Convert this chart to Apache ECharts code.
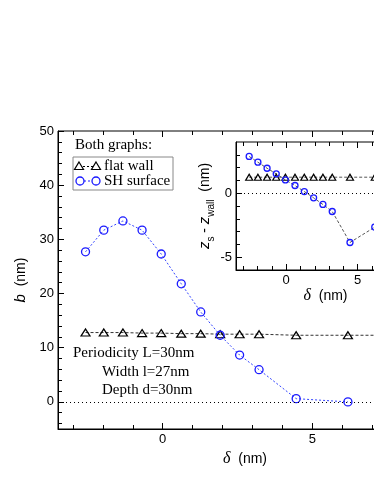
<!DOCTYPE html>
<html>
<head>
<meta charset="utf-8">
<script src="https://cdn.jsdelivr.net/npm/echarts@6/dist/echarts.min.js"></script>
<style>
html, body { margin: 0; padding: 0; background: #fff; }
#chart { width: 374px; height: 484px; }
</style>
</head>
<body>
<div id="chart"></div>
<script>
/* data */
var delta = [-2.58, -1.97, -1.33, -0.69, -0.05, 0.62, 1.27, 1.92, 2.57, 3.22, 4.46, 6.19];
var deltaMain = [-2.58, -1.97, -1.33, -0.69, -0.05, 0.62, 1.27, 1.92, 2.57, 3.22, 4.46, 6.19, 8.0];
var bFlat = [12.8, 12.8, 12.8, 12.7, 12.7, 12.6, 12.6, 12.5, 12.5, 12.5, 12.3, 12.3, 12.3];
var bSH = [27.7, 31.7, 33.4, 31.7, 27.3, 21.8, 16.6, 12.3, 8.65, 5.95, 0.6, 0.0];
var zFlat = [1.25, 1.25, 1.25, 1.25, 1.25, 1.25, 1.25, 1.25, 1.25, 1.25, 1.25, 1.25];
var zSH = [2.87, 2.42, 1.95, 1.51, 1.04, 0.60, 0.13, -0.36, -0.88, -1.43, -3.85, -2.65];

/* tick positions */
var xMajor = [0, 5];
var xMinor = [-3, -2, -1, 1, 2, 3, 4, 6, 7, 8];
var yMainMajor = [0, 10, 20, 30, 40, 50];
var yMainMinor = [-4, -2, 2, 4, 6, 8, 12, 14, 16, 18, 22, 24, 26, 28, 32, 34, 36, 38, 42, 44, 46, 48];
var yInsetMajor = [-5, 0];
var yInsetMinor = [-4, -3, -2, -1, 1, 2, 3];

var sans = '"Liberation Sans", Arial, sans-serif';
var serif = '"Liberation Serif", "Times New Roman", serif';
var blue = '#1a1aff';

function pairs(xs, ys) {
    var out = [];
    for (var i = 0; i < ys.length; i++) out.push([xs[i], ys[i]]);
    return out;
}

// one axis = one set of ticks (major or minor), optional labels
function axis(grid, pos, min, max, ticks, len, labels, line) {
    return {
        type: 'value', gridIndex: grid, position: pos, min: min, max: max,
        axisLine: { show: !!line, onZero: false, lineStyle: { color: '#000', width: 1 } },
        axisTick: { show: true, inside: true, length: len, customValues: ticks,
            lineStyle: { color: '#000', width: 1 } },
        axisLabel: labels ? { show: true, customValues: labels, color: '#000',
            fontFamily: sans, fontSize: 13, margin: 4 } : { show: false },
        splitLine: { show: false }
    };
}

var chart = echarts.init(document.getElementById('chart'), null, { renderer: 'canvas' });

var xAxes = [
    axis(0, 'bottom', -3.5, 9, xMajor, 6, xMajor, true),
    axis(0, 'bottom', -3.5, 9, xMinor, 4),
    axis(0, 'top', -3.5, 9, xMajor, 6),
    axis(0, 'top', -3.5, 9, xMinor, 4),
    axis(1, 'bottom', -3.5, 9, xMajor, 6, xMajor, true),
    axis(1, 'bottom', -3.5, 9, xMinor, 4),
    axis(1, 'top', -3.5, 9, xMajor, 6),
    axis(1, 'top', -3.5, 9, xMinor, 4)
];
xAxes[0].name = '{i|δ}  (nm)';
xAxes[0].nameLocation = 'middle';
xAxes[0].nameGap = 11;
xAxes[0].nameTextStyle = { fontFamily: sans, fontSize: 14, color: '#000',
    rich: { i: { fontStyle: 'italic', fontFamily: serif, fontSize: 16 } } };
xAxes[4].name = '{i|δ}  (nm)';
xAxes[4].nameLocation = 'middle';
xAxes[4].nameGap = 11;
xAxes[4].nameTextStyle = xAxes[0].nameTextStyle;

var yAxes = [
    axis(0, 'left', -5, 50, yMainMajor, 6, yMainMajor, true),
    axis(0, 'left', -5, 50, yMainMinor, 4),
    axis(1, 'left', -6, 4, yInsetMajor, 6, yInsetMajor, true),
    axis(1, 'left', -6, 4, yInsetMinor, 4)
];
yAxes[0].name = '{i|b}  (nm)';
yAxes[0].nameLocation = 'middle';
yAxes[0].nameGap = 20;
yAxes[0].nameRotate = 90;
yAxes[0].nameTextStyle = { fontFamily: sans, fontSize: 14, color: '#000',
    rich: { i: { fontStyle: 'italic', fontFamily: sans, fontSize: 15 } } };
yAxes[2].name = '{i|z}{s|s} - {i|z}{s|wall}  (nm)';
yAxes[2].nameLocation = 'middle';
yAxes[2].nameGap = 15;
yAxes[2].nameRotate = 90;
yAxes[2].nameTextStyle = { fontFamily: sans, fontSize: 14, color: '#000',
    rich: {
        i: { fontFamily: sans, fontSize: 15, fontStyle: 'italic', verticalAlign: 'bottom' },
        s: { fontFamily: sans, fontSize: 10, verticalAlign: 'bottom', padding: [0, 0, -4, 0] }
    } };

var zeroLine = {
    silent: true, symbol: ['none', 'none'], label: { show: false },
    lineStyle: { color: '#000', type: [1, 3], width: 1 },
    data: [{ yAxis: 0 }]
};

chart.setOption({
    animation: false,
    backgroundColor: '#fff',
    grid: [
        { left: 58, top: 131, width: 374, height: 298, show: true, borderColor: '#000',
          borderWidth: 1, containLabel: false, outerBoundsMode: 'none' },
        { left: 236, top: 142, width: 179, height: 128, show: true, borderColor: '#000',
          borderWidth: 1, backgroundColor: '#fff', containLabel: false, outerBoundsMode: 'none' }
    ],
    xAxis: xAxes,
    yAxis: yAxes,
    series: [
        {
            name: 'flat wall', type: 'line', xAxisIndex: 0, yAxisIndex: 0,
            data: pairs(deltaMain, bFlat),
            symbol: 'triangle', symbolSize: [9, 7],
            itemStyle: { color: 'transparent', borderColor: '#000', borderWidth: 1.2 },
            lineStyle: { color: '#333', width: 1, type: [3, 2] },
            markLine: zeroLine
        },
        {
            name: 'SH surface', type: 'line', xAxisIndex: 0, yAxisIndex: 0,
            data: pairs(delta, bSH),
            symbol: 'circle', symbolSize: 8,
            itemStyle: { color: 'transparent', borderColor: blue, borderWidth: 1.3 },
            lineStyle: { color: '#3344ff', width: 1, type: [2, 2] }
        },
        {
            name: 'flat wall inset', type: 'line', xAxisIndex: 4, yAxisIndex: 2,
            data: pairs(delta, zFlat),
            symbol: 'triangle', symbolSize: [7, 6],
            itemStyle: { color: 'transparent', borderColor: '#000', borderWidth: 1.2 },
            lineStyle: { color: '#555', width: 1, type: [3, 2] },
            markLine: zeroLine
        },
        {
            name: 'SH surface inset', type: 'line', xAxisIndex: 4, yAxisIndex: 2,
            data: pairs(delta, zSH),
            symbol: 'circle', symbolSize: 6,
            itemStyle: { color: 'transparent', borderColor: blue, borderWidth: 1.3 },
            lineStyle: { color: '#555', width: 1, type: [3, 2] }
        }
    ],
    graphic: [
        { type: 'text', x: 75, y: 145, style: { text: 'Both graphs:', font: '15px ' + serif,
            fill: '#000', align: 'left', verticalAlign: 'middle' } },
        { type: 'rect', shape: { x: 73, y: 157, width: 100, height: 33 },
            style: { fill: '#fff', stroke: '#888', lineWidth: 1 } },
        { type: 'line', shape: { x1: 79, y1: 166.5, x2: 96, y2: 166.5 },
            style: { stroke: '#000', lineWidth: 1, lineDash: [2, 2] } },
        { type: 'polygon', shape: { points: [[79, 162], [83.5, 169.5], [74.5, 169.5]] },
            style: { fill: '#fff', stroke: '#000', lineWidth: 1.2 } },
        { type: 'polygon', shape: { points: [[96, 162], [100.5, 169.5], [91.5, 169.5]] },
            style: { fill: '#fff', stroke: '#000', lineWidth: 1.2 } },
        { type: 'text', x: 104, y: 166, style: { text: 'flat wall', font: '15px ' + serif,
            fill: '#000', align: 'left', verticalAlign: 'middle' } },
        { type: 'line', shape: { x1: 80, y1: 181, x2: 96, y2: 181 },
            style: { stroke: blue, lineWidth: 1, lineDash: [2, 2] } },
        { type: 'circle', shape: { cx: 80, cy: 181, r: 4 },
            style: { fill: '#fff', stroke: blue, lineWidth: 1.3 } },
        { type: 'circle', shape: { cx: 96, cy: 181, r: 4 },
            style: { fill: '#fff', stroke: blue, lineWidth: 1.3 } },
        { type: 'text', x: 104, y: 181, style: { text: 'SH surface', font: '15px ' + serif,
            fill: '#000', align: 'left', verticalAlign: 'middle' } },
        { type: 'text', x: 73, y: 353, style: { text: 'Periodicity L=30nm', font: '15px ' + serif,
            fill: '#000', align: 'left', verticalAlign: 'middle' } },
        { type: 'text', x: 102, y: 372, style: { text: 'Width l=27nm', font: '15px ' + serif,
            fill: '#000', align: 'left', verticalAlign: 'middle' } },
        { type: 'text', x: 102, y: 390, style: { text: 'Depth d=30nm', font: '15px ' + serif,
            fill: '#000', align: 'left', verticalAlign: 'middle' } }
    ]
});
</script>
</body>
</html>
